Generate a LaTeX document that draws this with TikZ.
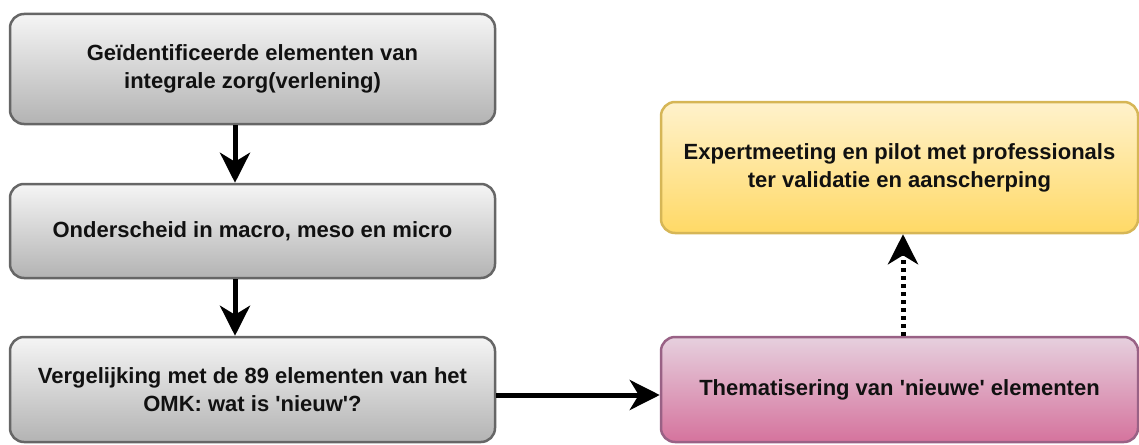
\documentclass[tikz,border=0pt]{standalone}
\usepackage{fontspec}
\setmainfont{Liberation Sans}
\usetikzlibrary{arrows.meta}

\definecolor{grayTop}{HTML}{F5F5F5}
\definecolor{grayBot}{HTML}{B3B3B3}
\definecolor{grayLine}{HTML}{666666}
\definecolor{yelTop}{HTML}{FFF2CC}
\definecolor{yelBot}{HTML}{FFD966}
\definecolor{yelLine}{HTML}{D6B656}
\definecolor{pinkTop}{HTML}{E6D0DE}
\definecolor{pinkBot}{HTML}{D5739D}
\definecolor{pinkLine}{HTML}{996185}
\definecolor{txt}{HTML}{111111}

\newcommand{\sq}{\textquotesingle}

\tikzset{
  box/.style={rectangle, rounded corners=14pt, line width=2.5pt,
    align=center, text=txt, inner sep=0pt,
    font=\bfseries\fontsize{22}{28}\selectfont},
  graybox/.style={box, draw=grayLine, top color=grayTop, bottom color=grayBot,
    minimum width=485pt},
  yellowbox/.style={box, draw=yelLine, top color=yelTop, bottom color=yelBot,
    minimum width=477pt},
  pinkbox/.style={box, draw=pinkLine, top color=pinkTop, bottom color=pinkBot,
    minimum width=477pt},
  flow/.style={line width=5pt, black,
    -{Stealth[length=30pt, width=30pt, inset=9pt]}},
  dotflow/.style={flow, dash pattern=on 4pt off 4pt}
}

\begin{document}
\begin{tikzpicture}[x=1pt, y=-1pt]
  \useasboundingbox (0,0) rectangle (1139,444);

  % left column
  \node[graybox, minimum height=110pt] (b1) at (252.5,69)
    {Geïdentificeerde elementen van\\integrale zorg(verlening)};
  \node[graybox, minimum height=94pt] (b2) at (252.5,231)
    {Onderscheid in macro, meso en micro};
  \node[graybox, minimum height=105pt] (b3) at (252.5,389.5)
    {Vergelijking met de 89 elementen van het\\OMK: wat is \sq nieuw\sq?};

  % right column
  \node[yellowbox, minimum height=131pt] (ex) at (899.5,167.5)
    {Expertmeeting en pilot met professionals\\ter validatie en aanscherping};
  \node[pinkbox, minimum height=105pt] (th) at (899.5,389.5)
    {Thematisering van \sq nieuwe\sq{} elementen};

  % connector guides
  \coordinate (ax) at (235,0);
  \coordinate (ay) at (0,395);
  \coordinate (dx) at (903,0);

  \draw[flow] (b1.south -| ax) -- (b2.north -| ax);
  \draw[flow] (b2.south -| ax) -- (b3.north -| ax);
  \draw[flow] (b3.east |- ay) -- (th.west |- ay);
  \draw[dotflow] (th.north -| dx) -- (ex.south -| dx);
\end{tikzpicture}
\end{document}
